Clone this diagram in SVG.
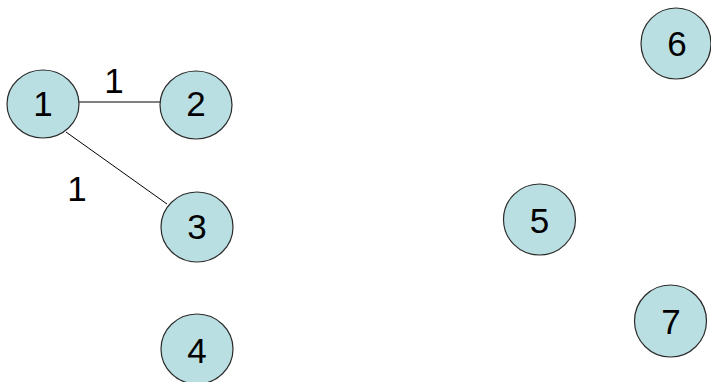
<svg xmlns="http://www.w3.org/2000/svg" width="711" height="382" viewBox="0 0 711 382">
<style>
.n{fill:#b9dfe2;stroke:#2b2b2b;stroke-width:1.2}
.t{font-family:"Liberation Sans",Arial,sans-serif;font-size:35px;fill:#000;text-anchor:middle}
</style>
<rect width="711" height="382" fill="#fff"/>
<g id="connectors">
<line x1="79" y1="102" x2="160" y2="102" stroke="#808080" stroke-width="2"/>
<line x1="66" y1="132" x2="167" y2="204" stroke="#000" stroke-width="1"/>
<text class="t" x="114" y="93">1</text>
<text class="t" x="77" y="201">1</text>
</g>
<g id="node1"><ellipse class="n" cx="43" cy="104" rx="36" ry="34"/><text class="t" x="43" y="116">1</text></g>
<g id="node2"><ellipse class="n" cx="196" cy="105" rx="36" ry="34"/><text class="t" x="196" y="116">2</text></g>
<g id="node3"><ellipse class="n" cx="197" cy="227" rx="36" ry="35"/><text class="t" x="197" y="239">3</text></g>
<g id="node4"><ellipse class="n" cx="197" cy="349" rx="36" ry="35"/><text class="t" x="197" y="363">4</text></g>
<g id="node5"><ellipse class="n" cx="539.5" cy="219.5" rx="36" ry="35.5"/><text class="t" x="539.5" y="233">5</text></g>
<g id="node6"><ellipse class="n" cx="676" cy="43.5" rx="35" ry="35.5"/><text class="t" x="677" y="56">6</text></g>
<g id="node7"><ellipse class="n" cx="670.5" cy="321" rx="36" ry="36"/><text class="t" x="671" y="334">7</text></g>
</svg>
